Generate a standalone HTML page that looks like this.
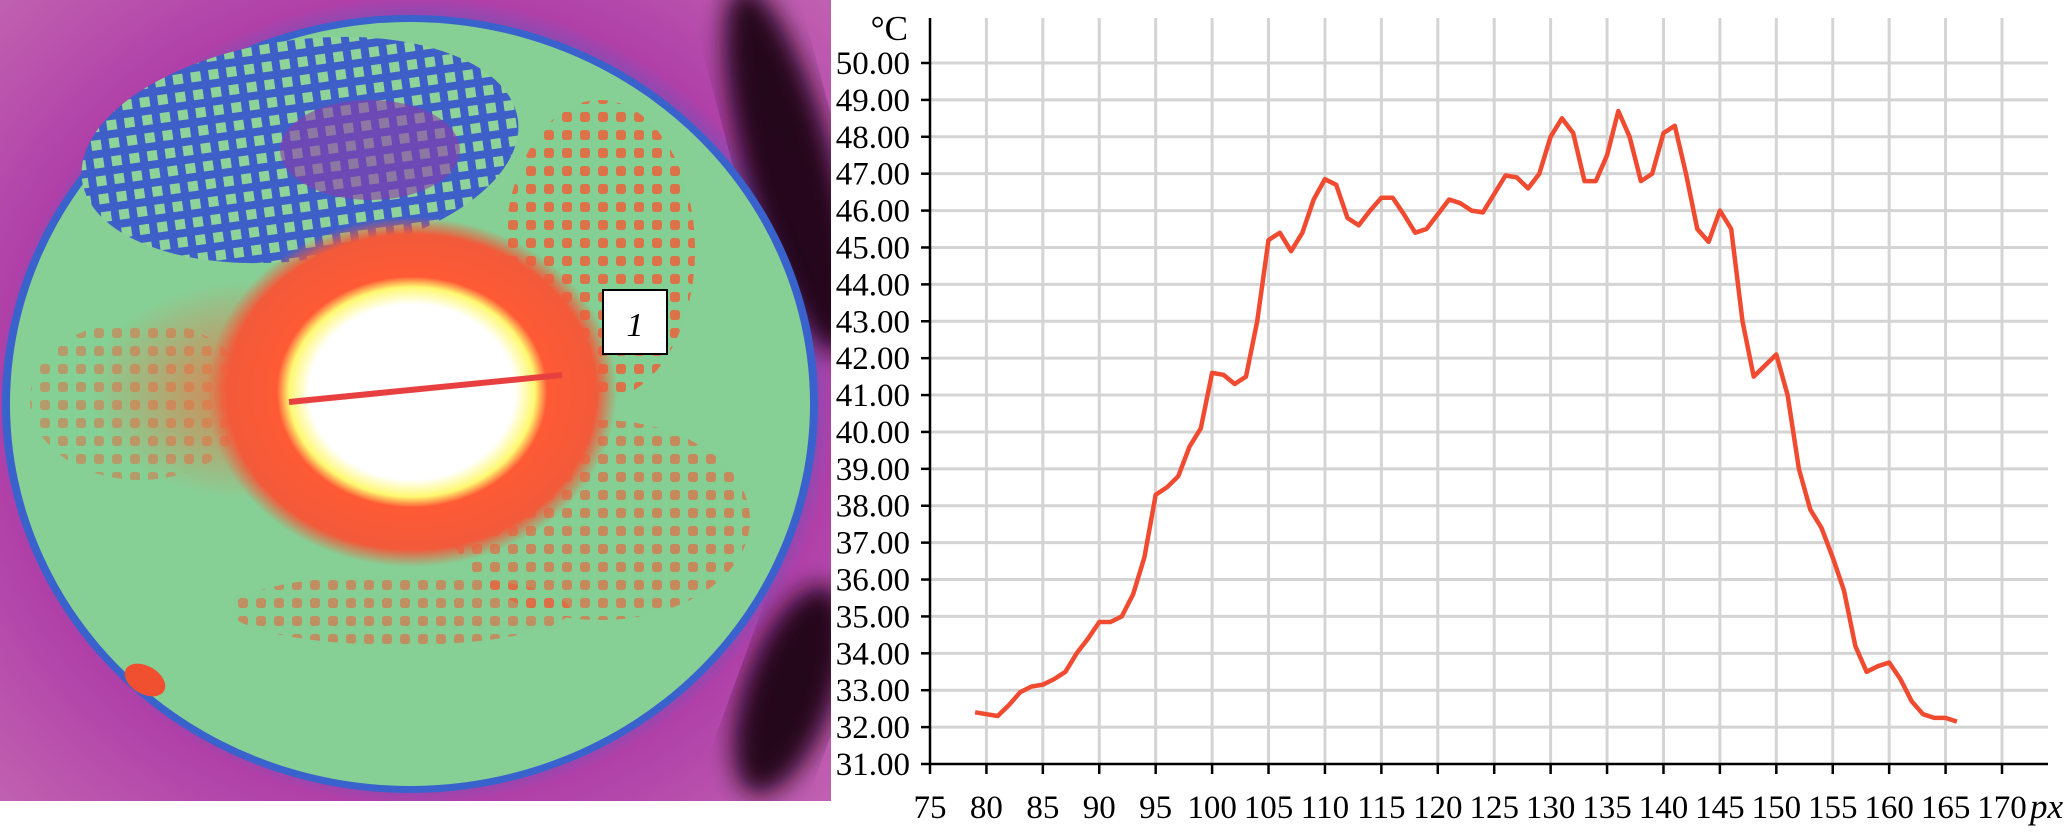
<!DOCTYPE html>
<html><head><meta charset="utf-8"><style>
html,body{margin:0;padding:0;background:#fff;width:2067px;height:839px;overflow:hidden}
svg{display:block}
text{font-family:"Liberation Serif",serif}
</style></head><body>
<svg width="2067" height="839" viewBox="0 0 2067 839">
<defs>
  <radialGradient id="bgG" cx="0.5" cy="0.5" r="0.7">
    <stop offset="0.6" stop-color="#3a5fc8"/><stop offset="0.72" stop-color="#b040a8"/><stop offset="1" stop-color="#c060b0"/>
  </radialGradient>
  <radialGradient id="hot" cx="0.5" cy="0.5" r="0.5">
    <stop offset="0" stop-color="#ffffff"/><stop offset="0.5" stop-color="#ffffff"/><stop offset="0.6" stop-color="#fff870"/>
    <stop offset="0.66" stop-color="#ff5a35"/><stop offset="0.9" stop-color="#f25a3a"/><stop offset="1" stop-color="#f25a3a" stop-opacity="0"/>
  </radialGradient>
  <radialGradient id="warm" cx="0.5" cy="0.5" r="0.5">
    <stop offset="0" stop-color="#f07040" stop-opacity="0.85"/><stop offset="1" stop-color="#f07040" stop-opacity="0"/>
  </radialGradient>
  <pattern id="mesh" width="18" height="18" patternUnits="userSpaceOnUse">
    <rect width="18" height="18" fill="#3f5fc8"/><rect x="4" y="4" width="10" height="10" fill="#8ed49a"/>
  </pattern>
  <pattern id="dots" width="18" height="18" patternUnits="userSpaceOnUse">
    <rect width="18" height="18" fill="#84cf92"/><rect x="4" y="4" width="10" height="10" rx="3" fill="#f05a35"/>
  </pattern>
  <clipPath id="imgclip"><rect x="0" y="0" width="831" height="801"/></clipPath>
  <filter id="blur"><feGaussianBlur stdDeviation="12"/></filter>
</defs>
<g clip-path="url(#imgclip)">
  <rect x="0" y="0" width="831" height="801" fill="url(#bgG)"/>
  <ellipse cx="790" cy="170" rx="45" ry="190" fill="#150010" opacity="0.9" transform="rotate(-15 790 170)" filter="url(#blur)"/>
  <ellipse cx="790" cy="690" rx="45" ry="110" fill="#150010" opacity="0.9" transform="rotate(20 790 690)" filter="url(#blur)"/>
  <ellipse cx="410" cy="404" rx="408" ry="389" fill="#3a62cc"/>
  <ellipse cx="410" cy="404" rx="400" ry="382" fill="#86d096"/>
  <ellipse cx="300" cy="150" rx="220" ry="110" fill="url(#mesh)" transform="rotate(-8 300 150)"/>
  <ellipse cx="370" cy="150" rx="90" ry="50" fill="#8a3aa8" opacity="0.6"/>
  <ellipse cx="600" cy="250" rx="95" ry="150" fill="url(#dots)" opacity="0.8"/>
  <ellipse cx="600" cy="520" rx="150" ry="100" fill="url(#dots)" opacity="0.6"/>
  <ellipse cx="140" cy="400" rx="110" ry="80" fill="url(#dots)" opacity="0.45"/>
  <ellipse cx="400" cy="610" rx="170" ry="35" fill="url(#dots)" opacity="0.55"/>
  <ellipse cx="250" cy="390" rx="160" ry="110" fill="url(#warm)"/>
  <ellipse cx="412" cy="392" rx="205" ry="175" fill="url(#hot)"/>
  <ellipse cx="145" cy="680" rx="22" ry="14" fill="#f05030" transform="rotate(30 145 680)"/>
  <line x1="289" y1="402" x2="562" y2="375" stroke="#e84040" stroke-width="6"/>
</g>
<g>
  <rect x="603" y="290" width="64" height="64" fill="#fff" stroke="#000" stroke-width="2"/>
  <text x="635" y="336" font-size="34" font-style="italic" text-anchor="middle">1</text>
</g>
<g id="chart"></g>
</svg>
<script>
const categories=[79,80,81,82,83,84,85,86,87,88,89,90,91,92,93,94,95,96,97,98,99,100,101,102,103,104,105,106,107,108,109,110,111,112,113,114,115,116,117,118,119,120,121,122,123,124,125,126,127,128,129,130,131,132,133,134,135,136,137,138,139,140,141,142,143,144,145,146,147,148,149,150,151,152,153,154,155,156,157,158,159,160,161,162,163,164,165,166];
const temps=[32.4,32.35,32.3,32.6,32.95,33.1,33.15,33.3,33.5,34.0,34.4,34.85,34.85,35.0,35.6,36.6,38.3,38.5,38.8,39.6,40.1,41.6,41.55,41.3,41.5,43.0,45.2,45.4,44.9,45.4,46.3,46.85,46.7,45.8,45.6,46.0,46.35,46.35,45.9,45.4,45.5,45.9,46.3,46.2,46.0,45.95,46.45,46.95,46.9,46.6,47.0,48.0,48.5,48.1,46.8,46.8,47.5,48.7,48.0,46.8,47.0,48.1,48.3,47.0,45.5,45.15,46.0,45.5,43.0,41.5,41.8,42.1,41.0,39.0,37.9,37.4,36.6,35.7,34.2,33.5,33.65,33.75,33.3,32.7,32.35,32.25,32.25,32.15];
const yTicks=[31,32,33,34,35,36,37,38,39,40,41,42,43,44,45,46,47,48,49,50];
const xTicks=[75,80,85,90,95,100,105,110,115,120,125,130,135,140,145,150,155,160,165,170];
const NS='http://www.w3.org/2000/svg';
const X0=930,X1=2002,Y0=764,Y1=63;
const xs=v=>X0+(v-75)*(X1-X0)/95;
const ys=v=>Y0-(v-31)*(Y0-Y1)/19;
const g=document.getElementById('chart');
function mk(t,a,p){const e=document.createElementNS(NS,t);for(const k in a)e.setAttribute(k,a[k]);(p||g).appendChild(e);return e;}
yTicks.forEach(v=>{
  if(v>31){const l=mk('line',{x1:X0,x2:2048,y1:ys(v),y2:ys(v),stroke:'#d4d4d4','stroke-width':3});
  
  }
  const tk=mk('line',{x1:X0-9,x2:X0,y1:ys(v),y2:ys(v),stroke:'#000','stroke-width':2.5});
  
  
  const t=mk('text',{x:910,y:ys(v)+11,'font-size':33,'text-anchor':'end'});
  t.textContent=v.toFixed(2);
  
  
});
xTicks.forEach(v=>{
  if(v>75){const l=mk('line',{x1:xs(v),x2:xs(v),y1:18,y2:Y0,stroke:'#d4d4d4','stroke-width':3});
  
  }
  const tk=mk('line',{x1:xs(v),x2:xs(v),y1:Y0,y2:Y0+10,stroke:'#000','stroke-width':2.5});
  
  
  const t=mk('text',{x:xs(v),y:818,'font-size':33,'text-anchor':'middle'});
  t.textContent=v;
  
  
});
const ya=mk('line',{x1:X0,x2:X0,y1:18,y2:Y0,stroke:'#000','stroke-width':2.5});


const xa=mk('line',{x1:X0,x2:2048,y1:Y0,y2:Y0,stroke:'#000','stroke-width':2.5});


const yt=mk('text',{x:908,y:40,'font-size':35,'text-anchor':'end'});
yt.textContent='°C';


const xt=mk('text',{x:2030,y:818,'font-size':35,'font-style':'italic','text-anchor':'start'});
xt.textContent='px';


const d=categories.map((c,i)=>(i?'L':'M')+xs(c).toFixed(1)+' '+ys(temps[i]).toFixed(1)).join(' ');
const p=mk('path',{d:d,fill:'none',stroke:'#f04a30','stroke-width':4.5,'stroke-linejoin':'round'});


</script>
</body></html>
